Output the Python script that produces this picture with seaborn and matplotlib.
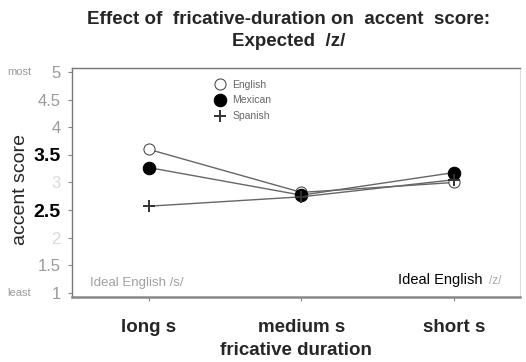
import matplotlib
matplotlib.use("Agg")
import matplotlib.pyplot as plt
import seaborn as sns
import pandas as pd

sns.set_style("white")
plt.rcParams["font.family"] = ["Liberation Sans", "DejaVu Sans"]

durations = ["long s", "medium s", "short s"]
english = [3.6, 2.82, 3.0]
mexican = [3.27, 2.77, 3.18]
spanish = [2.57, 2.74, 3.05]
y_ticks = [1, 1.5, 2, 2.5, 3, 3.5, 4, 4.5, 5]
y_tick_labels = ["1", "1.5", "2", "2.5", "3", "3.5", "4", "4.5", "5"]

df = pd.DataFrame({
    "duration": durations * 3,
    "score": english + mexican + spanish,
    "group": ["English"] * 3 + ["Mexican"] * 3 + ["Spanish"] * 3,
})

fig = plt.figure(figsize=(5.26, 3.62), dpi=100)
ax = fig.add_axes([0.137, 0.180, 0.852, 0.632])

styles = {
    "English": dict(marker="o", markerfacecolor="white", markeredgecolor="#444444", markersize=8),
    "Mexican": dict(marker="o", markerfacecolor="black", markeredgecolor="black", markersize=9),
    "Spanish": dict(marker="+", markeredgecolor="#333333", markersize=9, markeredgewidth=1.4),
}
for grp, st in styles.items():
    sub = df[df["group"] == grp]
    sns.lineplot(data=sub, x="duration", y="score", ax=ax, color="#666666",
                 linewidth=1.0, sort=False, label=grp, **st)

ax.set_xlim(-0.5, 2.43)
ax.set_ylim(0.93, 5.07)
ax.set_yticks(y_ticks)
ax.set_yticklabels(y_tick_labels)
for lab, val in zip(ax.get_yticklabels(), y_ticks):
    if val in (2.5, 3.5):
        lab.set_color("black")
        lab.set_fontsize(14)
        lab.set_fontweight("bold")
    elif val in (2, 3):
        lab.set_color("#dadada")
        lab.set_fontsize(12)
    else:
        lab.set_color("#9a9a9a")
        lab.set_fontsize(12)

# end-point descriptors beside the top and bottom ticks
ax.text(-0.145, 5.0, "most", transform=ax.get_yaxis_transform(), fontsize=8,
        color="#9a9a9a", ha="left", va="center")
ax.text(-0.145, 1.0, "least", transform=ax.get_yaxis_transform(), fontsize=8,
        color="#9a9a9a", ha="left", va="center")

ax.tick_params(axis="y", length=3, color="#888888", pad=5, left=True)
ax.tick_params(axis="x", length=3, color="#888888", pad=13, bottom=True)
for lab in ax.get_xticklabels():
    lab.set_fontweight("bold")
    lab.set_fontsize(13.5)

ax.set_xlabel("fricative duration", fontsize=13.5, fontweight="bold", labelpad=4)
ax.set_ylabel("accent score", fontsize=14)
ax.yaxis.set_label_coords(-0.095, 0.47)

for side in ["left", "top"]:
    ax.spines[side].set_color("#777777")
    ax.spines[side].set_linewidth(1.0)
ax.spines["right"].set_color("#dddddd")
ax.spines["bottom"].set_color("#888888")
ax.spines["bottom"].set_linewidth(1.8)

fig.text(289 / 526, 1 - 19 / 362, "Effect of  fricative-duration on  accent  score:",
         fontsize=13.5, fontweight="bold", ha="center", va="center")
fig.text(289 / 526, 1 - 42 / 362, "Expected  /z/",
         fontsize=13.5, fontweight="bold", ha="center", va="center")

ax.text(0.04, 0.035, "Ideal English /s/", transform=ax.transAxes, fontsize=9.5,
        color="#a0a0a0", ha="left", va="bottom")
ax.text(0.915, 0.045, "Ideal English", transform=ax.transAxes, fontsize=10.5,
        color="black", ha="right", va="bottom")
ax.text(0.958, 0.045, "/z/", transform=ax.transAxes, fontsize=8.5,
        color="#a8a8a8", ha="right", va="bottom")

leg = ax.legend(loc="upper center", bbox_to_anchor=(0.38, 0.99), frameon=False,
                fontsize=7.5, handlelength=1.2, handletextpad=0.6, labelspacing=0.55)
for t in leg.get_texts():
    t.set_color("#666666")
for h in leg.legend_handles:
    h.set_linestyle("none")

fig.savefig("out.png", dpi=100)
